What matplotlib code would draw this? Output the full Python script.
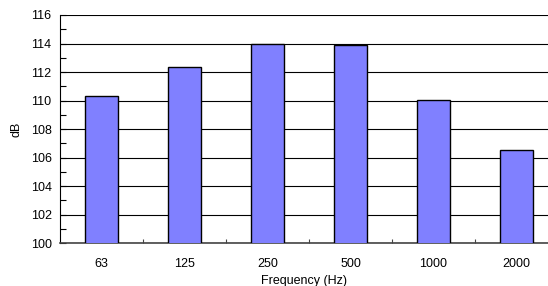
import matplotlib
matplotlib.use("Agg")
import matplotlib.pyplot as plt
from matplotlib.ticker import MultipleLocator

plt.rcParams["font.family"] = ["Liberation Sans", "DejaVu Sans"]
plt.rcParams["font.size"] = 9

freqs = ["63", "125", "250", "500", "1000", "2000"]
levels = [110.3, 112.35, 114.0, 113.9, 110.05, 106.5]

fig = plt.figure(figsize=(5.48, 2.86), dpi=100)
ax = fig.add_axes([0.1095, 0.150, 0.8905, 0.7976])

pos = list(range(len(freqs)))
ax.bar(pos, levels, width=0.4, bottom=0, color="#8080FF", edgecolor="black",
       linewidth=1.0, zorder=3)

ax.set_ylim(100, 116)
ax.set_xlim(-0.5, 5.38)
ax.yaxis.set_major_locator(MultipleLocator(2))
ax.yaxis.set_minor_locator(MultipleLocator(1))
ax.grid(axis="y", which="major", color="black", linewidth=0.8, zorder=0)

ax.set_xticks([p + 0.5 for p in pos[:-1]])
ax.set_xticklabels([])
ax.set_xticks(pos, minor=True)
ax.set_xticklabels(freqs, minor=True)
ax.tick_params(axis="x", which="major", direction="in", length=3, width=0.8, color="#444444")
ax.tick_params(axis="x", which="minor", length=0, pad=11)
ax.tick_params(axis="y", which="both", direction="in", length=4, width=0.8, pad=6)

for s in ["top", "right"]:
    ax.spines[s].set_visible(False)
ax.spines["left"].set_color("black")
ax.spines["bottom"].set_color("#444444")
ax.spines["bottom"].set_linewidth(1.2)

ax.set_xlabel("Frequency (Hz)", labelpad=3)
ax.set_ylabel("dB", labelpad=6)

fig.savefig("out.png", dpi=100)
